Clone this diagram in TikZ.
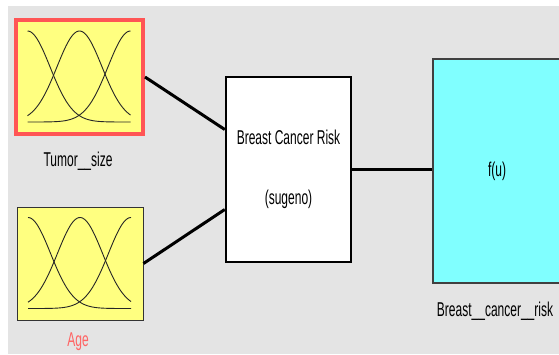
\documentclass[tikz,border=0pt]{standalone}
\usepackage{fontspec}
\newfontfamily\matfont[FakeStretch=0.6]{Liberation Sans}
\definecolor{bggray}{RGB}{228,228,228}
\definecolor{mfyellow}{RGB}{255,255,128}
\definecolor{selred}{RGB}{255,85,85}
\definecolor{outcyan}{RGB}{128,255,255}
\definecolor{agered}{RGB}{255,100,100}

\tikzset{
  lbl/.style={font=\fontsize{20}{24}\matfont, inner sep=0pt},
  varbox/.style={draw=black!80, line width=1pt, fill=mfyellow, inner sep=0pt},
  selbox/.style={varbox, draw=selred, line width=4pt},
  rulebox/.style={draw=black, line width=2.5pt, fill=white, lbl, align=center},
  outbox/.style={draw=black!75, line width=1.5pt, fill=outcyan, lbl},
  wire/.style={black, line width=3pt},
  mfline/.style={black!85, line width=0.9pt}
}

% three gaussian membership curves inside a variable box
\newcommand{\mfset}[1]{%
  \begin{scope}[shift={(#1)}]
    \foreach \pk in {-52,0,51}
      \draw[mfline] plot[domain=-52:51, samples=60, smooth]
        (\x, {45-91*exp(-((\x-\pk)*(\x-\pk))/1012.5)});
  \end{scope}}

\begin{document}
\begin{tikzpicture}[x=1pt, y=-1pt]
     \useasboundingbox (0,0) rectangle (559,354);
     \fill[white] (0,0) rectangle (559,354);
     \fill[bggray] (8,6) rectangle (559,354);

     \node[selbox, minimum width=127pt, minimum height=114pt] (tumor) at (79.5,77) {};
     \node[varbox, minimum width=126pt, minimum height=113pt] (age) at (80,263.5) {};
     \mfset{tumor.center}
     \mfset{age.center}

     \node[rulebox, minimum width=125pt, minimum height=185pt] (rule) at (288.5,169.5)
          {Breast Cancer Risk\\[36pt](sugeno)};
     \node[outbox, minimum width=128pt, minimum height=224pt] (out) at (497,171) {f(u)};

     \draw[wire] (tumor.east) -- ([yshift=40pt]rule.west);
     \draw[wire] (age.east) -- ([yshift=-40pt]rule.west);
     \draw[wire] (rule.east) -- (rule.east -| out.west);

     \node[lbl, anchor=base] (tumorlbl) at (78,166) {Tumor\_\_size};
     \node[lbl, anchor=base, text=agered] (agelbl) at (78,346) {Age};
     \node[lbl, anchor=base] (outlbl) at (495,316) {Breast\_\_cancer\_\_risk};
\end{tikzpicture}
\end{document}
